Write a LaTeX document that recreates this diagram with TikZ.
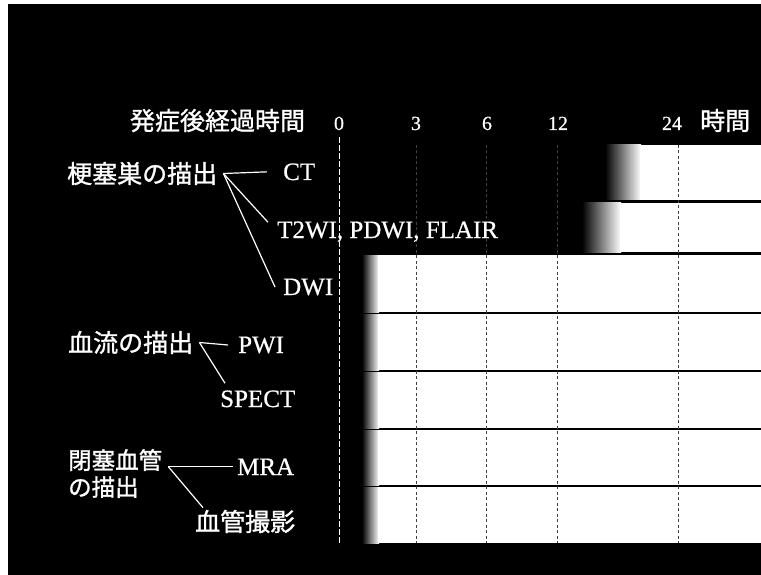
\documentclass[tikz,border=0pt]{standalone}
\usepackage{fontspec}
\setmainfont{Liberation Serif}[FakeBold=0.6]
\newfontfamily\jp{Noto Sans CJK JP}[FakeBold=1.2]
\usetikzlibrary{calc}
\tikzset{
  lab/.style={text=white, inner sep=0pt, font=\fontsize{25}{25}\selectfont},
  jlab/.style={text=white, inner sep=0pt, font=\jp\fontsize{25}{25}\selectfont},
  jlabs/.style={text=white, inner sep=0pt, font=\jp\fontsize{23.5}{23.5}\selectfont},
  num/.style={text=white, inner sep=0pt, font=\fontsize{20}{20}\selectfont, anchor=base},
  conn/.style={draw=white, line width=1.2pt},
  grid/.style={draw=black!75, line width=0.7pt, dash pattern=on 3pt off 2.5pt},
  zero/.style={draw=white, line width=0.8pt, dash pattern=on 6pt off 2pt},
}
\begin{document}
\begin{tikzpicture}[x=1pt,y=-1pt]
\useasboundingbox (0,0) rectangle (761,575);
\fill[white] (0,0) rectangle (761,575);
\fill[black] (8,4) rectangle (761,575);

% bars
\shade[left color=black, right color=white] (605,145) rectangle (641,200);
\fill[white] (640,145) rectangle (761,200);
\shade[left color=black, right color=white] (582,203) rectangle (621,252);
\fill[white] (620,203) rectangle (761,252);
\foreach \t/\b in {255/312, 314/370, 372/428, 430/485, 487/543}{
  \shade[left color=black, right color=white] (362,\t) rectangle (379,\b);
  \fill[white] (378,\t) rectangle (761,\b);
}

% grid lines
\foreach \x in {416,486,557,678}{
  \draw[grid] (\x,145) -- (\x,543);
}
\draw[zero] (339,137) -- (339,545);

% axis labels
\node[jlab, anchor=base] (axt) at (217.5,130) {発症後経過時間};
\node[num] (t0) at (339,130) {0};
\node[num] (t3) at (416,130) {3};
\node[num] (t6) at (487,130) {6};
\node[num] (t12) at (558,130) {12};
\node[num] (t24) at (672,130) {24};
\node[jlab, anchor=base west] (hr) at (700,130) {時間};

% group 1
\node[jlab, anchor=base west] (g1) at (67,183) {梗塞巣の描出};
\node[lab, anchor=base west] (ct) at (283,180) {CT};
\node[lab, anchor=base west] (t2) at (277,238) {T2WI, PDWI, FLAIR};
\node[lab, anchor=base west] (dwi) at (283,295) {DWI};
\coordinate (j1) at ($(g1.east)+(6,0)$);
\draw[conn] (j1) -- ($(ct.west)+(-16,0)$);
\draw[conn] (j1) -- ($(t2.north west)+(-9,1)$);
\draw[conn] (j1) -- ($(dwi.west)+(-8,0)$);

% group 2
\node[jlab, anchor=base west] (g2) at (68,352) {血流の描出};
\node[lab, anchor=base west] (pwi) at (238,353) {PWI};
\node[lab, anchor=base west] (spect) at (220,407) {SPECT};
\coordinate (j2) at ($(g2.east)+(6,0)$);
\draw[conn] (j2) -- ($(pwi.west)+(-10,0)$);
\draw[conn] (j2) -- ($(spect.north west)+(5,-7)$);

% group 3
\node[jlabs, anchor=base west] (g3a) at (68,469) {閉塞血管};
\node[jlabs, anchor=base west] (g3b) at (68,496) {の描出};
\node[lab, anchor=base west] (mra) at (237,475) {MRA};
\node[jlab, anchor=base west] (ang) at (195,531) {血管撮影};
\coordinate (j3) at ($(g3a.east |- mra.west)+(6,0)$);
\draw[conn] (j3) -- ($(mra.west)+(-4,0)$);
\draw[conn] (j3) -- ($(ang.north west)+(8,-2)$);
\end{tikzpicture}
\end{document}
